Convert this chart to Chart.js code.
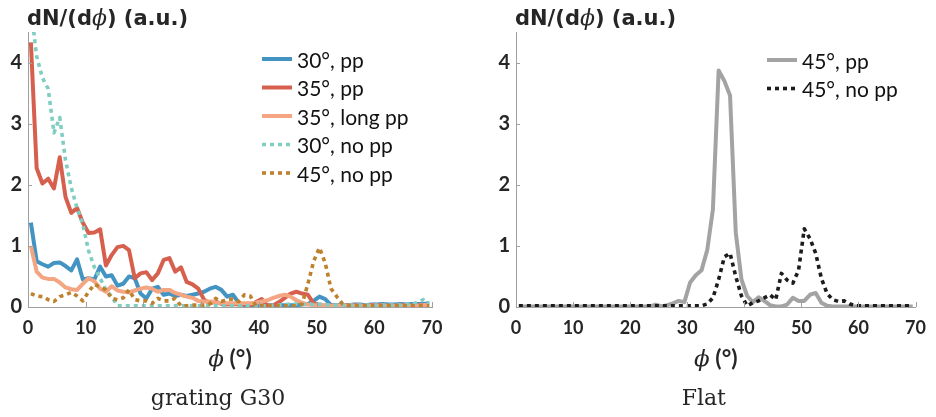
<!DOCTYPE html>
<html>
<head>
<meta charset="utf-8">
<script src="https://cdn.jsdelivr.net/npm/chart.js@4.4.0/dist/chart.umd.min.js"></script>
<style>
  html, body { margin: 0; padding: 0; background: #fff; }
  .wrap { display: flex; width: 936px; height: 417px; }
  canvas { display: block; }
</style>
</head>
<body>
<div class="wrap">
  <canvas id="left" width="468" height="417"></canvas>
  <canvas id="right" width="468" height="417"></canvas>
</div>
<script>
// angle bins (deg)
const phi = [0.5, 1.5, 2.5, 3.5, 4.5, 5.5, 6.5, 7.5, 8.5, 9.5,
  10.5, 11.5, 12.5, 13.5, 14.5, 15.5, 16.5, 17.5, 18.5, 19.5,
  20.5, 21.5, 22.5, 23.5, 24.5, 25.5, 26.5, 27.5, 28.5, 29.5,
  30.5, 31.5, 32.5, 33.5, 34.5, 35.5, 36.5, 37.5, 38.5, 39.5,
  40.5, 41.5, 42.5, 43.5, 44.5, 45.5, 46.5, 47.5, 48.5, 49.5,
  50.5, 51.5, 52.5, 53.5, 54.5, 55.5, 56.5, 57.5, 58.5, 59.5,
  60.5, 61.5, 62.5, 63.5, 64.5, 65.5, 66.5, 67.5, 68.5, 69.5];

// grating G30
const pp30 = [1.38, 0.75, 0.70, 0.66, 0.72, 0.73, 0.67, 0.60, 0.78, 0.45,
  0.47, 0.45, 0.66, 0.50, 0.52, 0.35, 0.38, 0.50, 0.47, 0.22,
  0.14, 0.30, 0.33, 0.20, 0.22, 0.18, 0.20, 0.18, 0.20, 0.22,
  0.25, 0.30, 0.33, 0.28, 0.17, 0.20, 0.07, 0.03, 0.03, 0.03,
  0.03, 0.03, 0.03, 0.03, 0.03, 0.03, 0.03, 0.04, 0.05, 0.10,
  0.17, 0.13, 0.03, 0.03, 0.03, 0.03, 0.04, 0.04, 0.03, 0.04,
  0.04, 0.05, 0.04, 0.04, 0.05, 0.04, 0.05, 0.05, 0.05, 0.06];
const pp35 = [4.33, 2.27, 2.02, 2.10, 1.94, 2.45, 1.80, 1.54, 1.62, 1.38,
  1.21, 1.22, 1.27, 0.68, 0.85, 0.98, 1.00, 0.93, 0.47, 0.55,
  0.57, 0.44, 0.55, 0.77, 0.80, 0.58, 0.65, 0.41, 0.37, 0.30,
  0.12, 0.06, 0.09, 0.05, 0.04, 0.05, 0.04, 0.05, 0.03, 0.08,
  0.13, 0.02, 0.03, 0.08, 0.15, 0.22, 0.25, 0.22, 0.20, 0.06,
  0.03, 0.02, 0.02, 0.02, 0.02, 0.03, 0.03, 0.02, 0.02, 0.03,
  0.03, 0.03, 0.02, 0.02, 0.03, 0.03, 0.02, 0.03, 0.03, 0.03];
const longPp35 = [1.00, 0.58, 0.48, 0.46, 0.46, 0.40, 0.32, 0.29, 0.28, 0.38,
  0.47, 0.42, 0.30, 0.25, 0.34, 0.27, 0.25, 0.24, 0.27, 0.30,
  0.32, 0.30, 0.25, 0.28, 0.28, 0.23, 0.20, 0.17, 0.15, 0.10,
  0.09, 0.09, 0.08, 0.06, 0.06, 0.06, 0.06, 0.06, 0.06, 0.07,
  0.09, 0.11, 0.15, 0.18, 0.20, 0.17, 0.11, 0.07, 0.04, 0.03,
  0.03, 0.03, 0.02, 0.02, 0.02, 0.02, 0.02, 0.02, 0.02, 0.02,
  0.02, 0.02, 0.02, 0.02, 0.02, 0.02, 0.02, 0.02, 0.03, 0.04];
const noPp30 = [4.90, 4.10, 3.75, 3.57, 2.85, 3.10, 2.40, 1.95, 1.62, 1.35,
  0.92, 0.65, 0.47, 0.28, 0.17, 0.02, 0.02, 0.02, 0.02, 0.02,
  0.02, 0.02, 0.02, 0.02, 0.02, 0.02, 0.02, 0.02, 0.02, 0.02,
  0.02, 0.02, 0.02, 0.02, 0.02, 0.02, 0.02, 0.02, 0.02, 0.02,
  0.02, 0.02, 0.03, 0.03, 0.04, 0.05, 0.05, 0.04, 0.05, 0.04,
  0.05, 0.04, 0.03, 0.03, 0.03, 0.03, 0.03, 0.03, 0.03, 0.03,
  0.03, 0.03, 0.03, 0.03, 0.03, 0.04, 0.04, 0.08, 0.12, 0.05];
const noPp45 = [0.22, 0.18, 0.17, 0.12, 0.09, 0.17, 0.20, 0.24, 0.18, 0.10,
  0.25, 0.37, 0.33, 0.28, 0.14, 0.12, 0.15, 0.28, 0.12, 0.10,
  0.10, 0.06, 0.14, 0.10, 0.10, 0.14, 0.02, 0.02, 0.03, 0.03,
  0.03, 0.05, 0.14, 0.09, 0.12, 0.13, 0.09, 0.20, 0.18, 0.02,
  0.02, 0.02, 0.02, 0.02, 0.02, 0.02, 0.02, 0.05, 0.38, 0.75,
  0.97, 0.72, 0.30, 0.17, 0.05, 0.02, 0.02, 0.02, 0.02, 0.02,
  0.02, 0.02, 0.02, 0.02, 0.02, 0.02, 0.02, 0.02, 0.02, 0.02];

// Flat
const flatPp45 = [0.01, 0.01, 0.01, 0.01, 0.01, 0.01, 0.01, 0.01, 0.01, 0.01,
  0.01, 0.01, 0.01, 0.01, 0.01, 0.01, 0.01, 0.01, 0.01, 0.01,
  0.01, 0.01, 0.01, 0.01, 0.04, 0.01, 0.03, 0.06, 0.10, 0.08,
  0.40, 0.52, 0.60, 0.93, 1.60, 3.87, 3.70, 3.46, 1.22, 0.45,
  0.18, 0.08, 0.16, 0.10, 0.03, 0.01, 0.01, 0.04, 0.15, 0.10,
  0.10, 0.20, 0.23, 0.07, 0.02, 0.01, 0.01, 0.01, 0.01, 0.01,
  0.01, 0.01, 0.01, 0.01, 0.01, 0.01, 0.01, 0.01, 0.01, 0.01];
const flatNoPp45 = [0.02, 0.02, 0.02, 0.02, 0.02, 0.02, 0.02, 0.02, 0.02, 0.02,
  0.02, 0.02, 0.02, 0.02, 0.02, 0.02, 0.02, 0.02, 0.02, 0.02,
  0.02, 0.02, 0.02, 0.02, 0.02, 0.02, 0.02, 0.02, 0.02, 0.02,
  0.02, 0.02, 0.02, 0.05, 0.15, 0.45, 0.82, 0.88, 0.50, 0.18,
  0.02, 0.07, 0.10, 0.15, 0.20, 0.12, 0.55, 0.44, 0.39, 0.60,
  1.28, 1.12, 0.88, 0.47, 0.22, 0.12, 0.09, 0.10, 0.05, 0.02,
  0.02, 0.02, 0.02, 0.02, 0.02, 0.02, 0.02, 0.02, 0.02, 0.02];

const xTicks = [0, 10, 20, 30, 40, 50, 60, 70];
const yTicks = [0, 1, 2, 3, 4];

const SANS = "Lato";
const WIDE = '"DejaVu Sans"';
const SERIF = "DejaVu Serif";
const INK = "#262626";
const AXIS = "#a0a0a0";

const toPoints = (ys) => ys.map((y, i) => ({ x: phi[i], y }));

const makeSet = (label, values, color, dotted, n, i) => ({
  label,
  data: toPoints(values),
  borderColor: color,
  borderWidth: dotted ? 3.6 : 4,
  borderDash: dotted ? [4, 4] : [],
  borderJoinStyle: "round",
  pointRadius: 0,
  tension: 0,
  clip: 0,
  order: n - i,
});

const drawParts = (ctx, parts, x, y, align) => {
  let w = 0;
  parts.forEach((p) => { ctx.font = p.font; w += ctx.measureText(p.text).width; });
  let cx = align === "center" ? x - w / 2 : x;
  ctx.textAlign = "left";
  parts.forEach((p) => {
    ctx.font = p.font;
    ctx.fillText(p.text, cx, y);
    cx += ctx.measureText(p.text).width;
  });
};

// axis labels, caption, inward ticks and the legend
const panelText = {
  id: "panelText",
  afterDraw(chart, args, opts) {
    const { ctx, chartArea: a } = chart;
    const xs = chart.scales.x;
    const ys = chart.scales.y;
    ctx.save();

    ctx.strokeStyle = AXIS;
    ctx.lineWidth = 1;
    ctx.beginPath();
    xs.ticks.forEach((t) => {
      const px = Math.round(xs.getPixelForValue(t.value)) + 0.5;
      ctx.moveTo(px, a.bottom);
      ctx.lineTo(px, a.bottom - 5);
    });
    ys.ticks.forEach((t) => {
      const py = Math.round(ys.getPixelForValue(t.value)) + 0.5;
      ctx.moveTo(a.left, py);
      ctx.lineTo(a.left + 4, py);
    });
    ctx.stroke();

    ctx.fillStyle = INK;
    ctx.textBaseline = "alphabetic";
    drawParts(ctx, [
      { text: "dN/(d", font: `bold 21px ${WIDE}` },
      { text: "ϕ", font: `italic 22px "${SERIF}"` },
      { text: ") (a.u.)", font: `bold 21px ${WIDE}` },
    ], a.left - 1, 25, "left");

    drawParts(ctx, [
      { text: "ϕ", font: `italic 23px "${SERIF}"` },
      { text: " (°)", font: `bold 23px ${SANS}` },
    ], (a.left + a.right) / 2, 366, "center");

    drawParts(ctx, [{ text: opts.caption, font: `22px "${SERIF}"` }],
      (a.left + a.right) / 2 - 12, 405, "center");

    chart.data.datasets.forEach((d, i) => {
      const y = opts.legendY + i * opts.rowH;
      ctx.strokeStyle = d.borderColor;
      ctx.lineWidth = d.borderWidth;
      ctx.setLineDash(d.borderDash);
      ctx.beginPath();
      ctx.moveTo(opts.legendX, y);
      ctx.lineTo(opts.legendX + 30, y);
      ctx.stroke();
      ctx.setLineDash([]);
      ctx.fillStyle = "#111";
      ctx.font = `21px ${SANS}`;
      ctx.textBaseline = "middle";
      ctx.textAlign = "left";
      ctx.fillText(d.label, opts.legendX + 35, y + 2);
    });
    ctx.restore();
  },
};

const makeConfig = (datasets, pad, legend, caption) => ({
  type: "line",
  data: { datasets },
  options: {
    responsive: false,
    animation: false,
    devicePixelRatio: 1,
    layout: { padding: pad },
    plugins: {
      legend: { display: false },
      tooltip: { enabled: false },
      panelText: { caption, ...legend },
    },
    scales: {
      x: {
        type: "linear",
        min: 0,
        max: 70,
        afterFit: (s) => { s.height = 110; },
        afterBuildTicks: (s) => { s.ticks = xTicks.map((v) => ({ value: v })); },
        grid: { display: false, drawTicks: false },
        border: { display: true, color: AXIS, width: 1 },
        ticks: { padding: 10, color: INK, font: { family: SANS, size: 18, weight: "bold" } },
      },
      y: {
        type: "linear",
        min: 0,
        max: 4.5,
        afterFit: (s) => { s.width = 28; },
        afterBuildTicks: (s) => { s.ticks = yTicks.map((v) => ({ value: v })); },
        grid: { display: false, drawTicks: false },
        border: { display: true, color: AXIS, width: 1 },
        ticks: { padding: 6, color: INK, font: { family: SANS, size: 20, weight: "bold" } },
      },
    },
  },
  plugins: [panelText],
});

const leftSets = [
  ["30°, pp", pp30, "#4393c3", false],
  ["35°, pp", pp35, "#d6604d", false],
  ["35°, long pp", longPp35, "#f4a582", false],
  ["30°, no pp", noPp30, "#80cdc1", true],
  ["45°, no pp", noPp45, "#bf812d", true],
].map((s, i, all) => makeSet(s[0], s[1], s[2], s[3], all.length, i));

const rightSets = [
  ["45°, pp", flatPp45, "#a3a3a3", false],
  ["45°, no pp", flatNoPp45, "#1c1c1c", true],
].map((s, i, all) => makeSet(s[0], s[1], s[2], s[3], all.length, i));

new Chart(document.getElementById("left").getContext("2d"),
  makeConfig(leftSets, { left: 0, right: 36, top: 32, bottom: 0 },
    { legendX: 262, legendY: 59, rowH: 28.5 }, "grating G30"));

new Chart(document.getElementById("right").getContext("2d"),
  makeConfig(rightSets, { left: 20, right: 18, top: 32, bottom: 0 },
    { legendX: 299, legendY: 60, rowH: 28.5 }, "Flat"));
</script>
</body>
</html>
